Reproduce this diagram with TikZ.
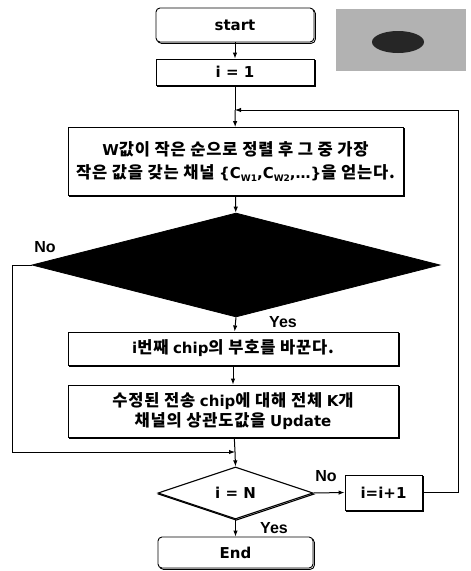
\documentclass[tikz,border=0pt]{standalone}
\usepackage{fontspec}
\setmainfont{DejaVu Sans}
\newfontfamily\kr{Noto Sans CJK KR}[Scale=1.1, LetterSpace=5]
\newfontfamily\lab{Liberation Sans}
\usetikzlibrary{arrows.meta,shapes.geometric,shadows}
\newcommand\subw[1]{\raisebox{-2.5pt}{\fontsize{9}{9}\selectfont #1}}
\begin{document}
\begin{tikzpicture}[x=1pt,y=-1pt,
  box/.style={draw, line width=0.9pt, fill=white,
    copy shadow={shadow xshift=1.3pt, shadow yshift=-1.3pt},
    inner sep=0pt, align=center, font=\bfseries\fontsize{15}{23}\selectfont},
  rbox/.style={box, rounded corners=4pt},
  arr/.style={-{Latex[length=6pt,width=4.5pt]}, line width=1pt},
  conn/.style={line width=1pt},
  lbl/.style={font=\lab\bfseries\fontsize{16}{16}\selectfont, inner sep=0pt}]
\useasboundingbox (0,0) rectangle (471,571);

% stamp
\node[fill=gray!60, minimum width=130pt, minimum height=62pt, inner sep=0pt] (stamp) at (401,40) {};
\fill[gray!30!black] (398,42) ellipse [x radius=26pt, y radius=11pt];

\node[rbox, minimum width=158pt, minimum height=34pt] (start) at (235,25) {start};
\node[box, minimum width=158pt, minimum height=26pt] (i1) at (235,72) {i = 1};
\coordinate (j1) at (235,110);
\node[box, minimum width=335pt, minimum height=68pt, font=\bfseries\fontsize{15}{23}\selectfont] (w) at (235.5,161.5)
  {W\kr 값이 작은 순으로 정렬 후 그 중 가장\\
   \kr 작은 값을 갖는 채널 \rmfamily\{C\subw{W1},C\subw{W2},…\}\kr 을 얻는다.};
\node[diamond, draw, fill=black, line width=0.8pt, minimum width=408pt, minimum height=104pt, inner sep=0pt] (d1) at (236,265) {};
\node[box, minimum width=330pt, minimum height=33pt] (chip) at (233,348.5)
  {i\kr 번째 \rmfamily chip\kr 의 부호를 바꾼다.};
\node[box, minimum width=330pt, minimum height=52pt, font=\bfseries\fontsize{15}{20}\selectfont] (upd) at (233,411)
  {\kr 수정된 전송 \rmfamily chip\kr 에 대해 전체 \rmfamily K\kr 개\\
   \kr 채널의 상관도값을 \rmfamily Update};
\coordinate (j2) at (235,452);
\node[diamond, draw, fill=white, line width=1.1pt, copy shadow={shadow xshift=0.8pt, shadow yshift=-1.2pt},
  minimum width=155pt, minimum height=51pt, inner sep=0pt, font=\bfseries\fontsize{15}{15}\selectfont] (d2) at (235.5,493) {i = N};
\node[box, minimum width=77pt, minimum height=35pt] (inc) at (383.5,492.5) {i=i+1};
\node[rbox, minimum width=155pt, minimum height=31pt] (end) at (235.5,552.5) {End};

% connectors
\draw[arr] (start) -- (i1);
\draw[conn] (i1) -- (j1);
\draw[arr] (j1) -- (w);
\draw[arr] (inc.east) -- (458,492.5) -- (458,110) -- (j1);
\draw[arr] (w) -- (d1);
\draw[arr] (d1.south) -- (chip);
\draw[arr] (chip) -- (upd);
\draw[conn] (upd) -- (j2);
\draw[arr] (j2) -- (d2.north);
\draw[arr] (d1.west) -- (12,265) -- (12,452) -- (j2);
\draw[arr] (d2.east) -- (inc.west);
\draw[arr] (d2.south) -- (end);

% labels
\node[lbl] (no1) at (45,247) {No};
\node[lbl] (yes1) at (283,322) {Yes};
\node[lbl] (no2) at (326,476) {No};
\node[lbl] (yes2) at (274,528) {Yes};
\end{tikzpicture}
\end{document}
